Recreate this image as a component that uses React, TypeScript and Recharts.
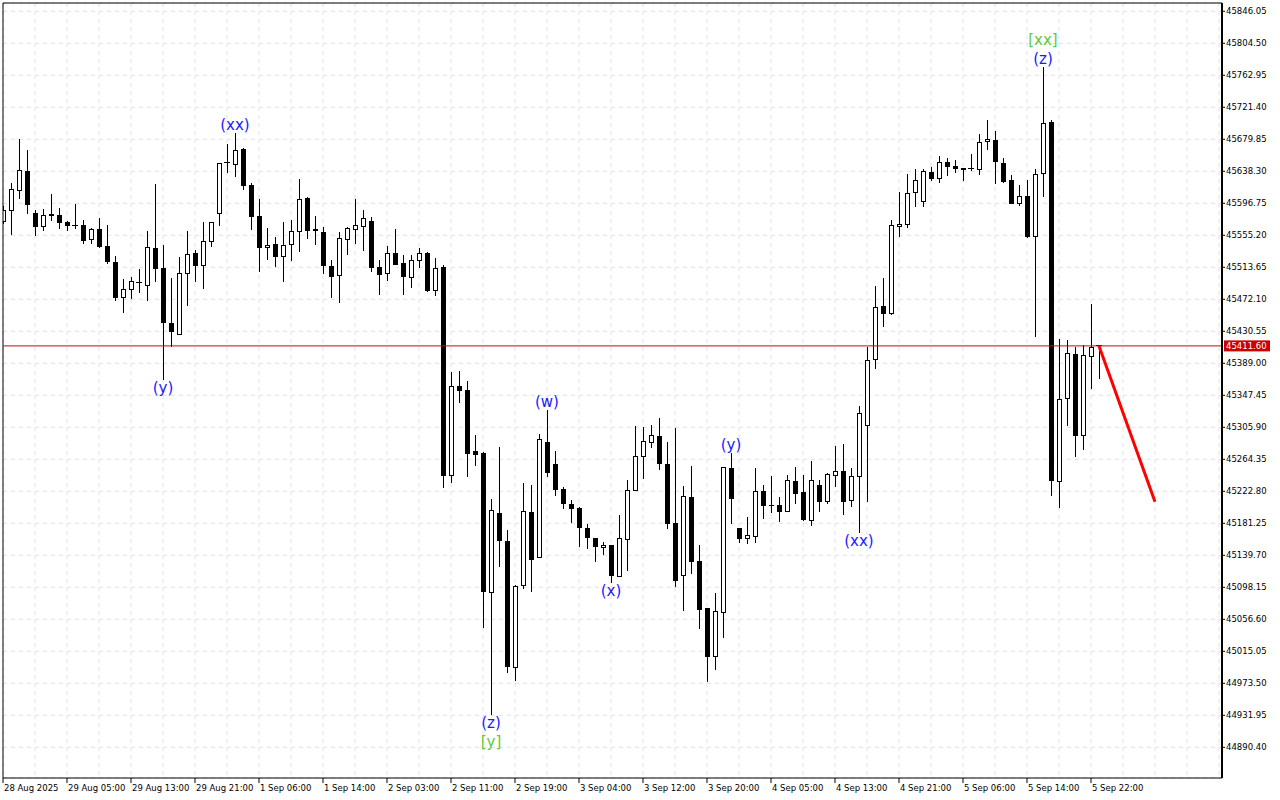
import { Bar, CartesianGrid, ComposedChart, Line, ReferenceDot, ReferenceLine, XAxis, YAxis } from 'recharts';

// hourly OHLC (first candle is half hidden behind the left edge)
const OPEN = [
  45572.8, 45587.1, 45613.1, 45638.3, 45583.7, 45566.3, 45582.4, 45581.1, 45572.5, 45568.2,
  45568.2, 45550.0, 45563.0, 45541.3, 45520.1, 45474.7, 45485.1, 45492.9, 45490.3, 45538.7,
  45512.7, 45440.9, 45426.6, 45505.8, 45531.8, 45515.7, 45547.4, 45583.7, 45648.7, 45647.4,
  45667.2, 45620.5, 45580.2, 45539.6, 45543.9, 45527.4, 45543.5, 45560.4, 45603.6, 45563.4,
  45559.5, 45515.3, 45502.7, 45550.0, 45563.0, 45566.3, 45573.4, 45513.6, 45505.8, 45531.8,
  45518.8, 45500.7, 45522.7, 45531.8, 45483.3, 45514.4, 45243.6, 45359.5, 45354.3, 45275.5,
  45272.1, 45091.7, 45194.2, 45157.9, 44994.3, 45100.8, 45195.5, 45137.1, 45286.8, 45258.2,
  45225.8, 45206.3, 45201.1, 45174.8, 45161.8, 45150.1, 45152.7, 45111.9, 45160.0, 45224.5,
  45268.2, 45286.4, 45294.6, 45258.2, 45181.3, 45113.7, 45215.0, 45132.3, 45070.9, 45008.0,
  45065.7, 45252.7, 45175.1, 45161.3, 45163.9, 45223.2, 45204.6, 45204.6, 45196.8, 45236.2,
  45221.5, 45184.6, 45230.6, 45209.3, 45243.0, 45248.8, 45211.1, 45242.3, 45308.0, 45393.7,
  45463.4, 45453.4, 45566.9, 45569.5, 45611.4, 45599.3, 45637.0, 45629.2, 45650.0, 45644.8,
  45642.2, 45640.9, 45640.4, 45677.2, 45678.9, 45648.7, 45626.6, 45596.7, 45605.8, 45553.4,
  45635.7, 45701.9, 45235.3, 45343.6, 45401.1, 45295.0, 45397.6, 45411.6,
];
const HIGH = [
  45593.2, 45623.5, 45679.8, 45665.9, 45588.0, 45589.3, 45608.8, 45590.2, 45574.1, 45595.8,
  45575.1, 45564.3, 45577.6, 45568.6, 45528.3, 45498.5, 45501.4, 45511.8, 45561.2, 45621.8,
  45542.6, 45499.7, 45527.4, 45560.8, 45536.1, 45572.1, 45573.1, 45649.7, 45673.7, 45687.6,
  45668.5, 45622.7, 45602.3, 45564.3, 45552.6, 45572.1, 45575.1, 45627.9, 45604.9, 45580.2,
  45565.6, 45523.1, 45559.5, 45565.6, 45602.3, 45588.0, 45578.6, 45523.1, 45541.3, 45563.4,
  45529.2, 45529.2, 45538.3, 45533.9, 45525.3, 45516.6, 45377.3, 45379.0, 45366.4, 45295.9,
  45273.8, 45212.4, 45279.9, 45172.6, 45101.1, 45233.2, 45231.0, 45297.2, 45328.4, 45274.7,
  45228.0, 45211.5, 45201.8, 45180.3, 45162.8, 45157.4, 45153.1, 45191.6, 45237.5, 45307.6,
  45306.7, 45308.9, 45318.0, 45286.4, 45304.6, 45229.7, 45255.7, 45153.1, 45071.9, 45091.1,
  45255.0, 45272.1, 45175.8, 45189.0, 45252.7, 45230.6, 45242.7, 45215.0, 45244.0, 45254.0,
  45244.0, 45262.1, 45237.5, 45246.6, 45281.6, 45284.2, 45253.0, 45333.5, 45410.2, 45489.4,
  45499.7, 45575.1, 45611.8, 45634.8, 45640.9, 45640.9, 45643.5, 45658.2, 45655.2, 45653.0,
  45642.6, 45660.8, 45686.7, 45704.5, 45690.6, 45655.2, 45633.1, 45620.1, 45626.6, 45640.9,
  45774.1, 45704.9, 45420.2, 45419.2, 45410.5, 45412.8, 45466.0, 45412.0,
];
const LOW = [
  45569.9, 45555.6, 45602.3, 45582.8, 45554.3, 45561.2, 45574.1, 45563.4, 45561.2, 45563.8,
  45543.9, 45543.9, 45539.3, 45517.9, 45469.9, 45454.7, 45472.1, 45480.7, 45470.3, 45494.9,
  45367.3, 45410.5, 45425.7, 45463.8, 45494.9, 45485.9, 45540.4, 45567.6, 45635.7, 45631.3,
  45614.0, 45562.1, 45507.9, 45523.1, 45514.4, 45494.9, 45522.2, 45533.9, 45550.8, 45542.6,
  45504.9, 45474.2, 45467.7, 45529.2, 45543.9, 45535.2, 45507.9, 45478.1, 45496.2, 45516.0,
  45478.1, 45487.2, 45512.3, 45482.0, 45476.8, 45226.7, 45233.2, 45337.8, 45241.8, 45255.7,
  45044.9, 44932.3, 45124.9, 44987.3, 44976.9, 45095.6, 45091.7, 45136.2, 45241.0, 45217.1,
  45200.2, 45182.0, 45150.9, 45148.3, 45130.6, 45140.1, 45104.1, 45111.5, 45119.7, 45223.6,
  45238.8, 45278.6, 45250.5, 45174.2, 45098.9, 45067.4, 45115.0, 45044.0, 44975.6, 44990.8,
  45032.3, 45180.0, 45156.1, 45154.8, 45156.1, 45186.8, 45195.0, 45182.9, 45196.6, 45206.3,
  45184.6, 45178.1, 45196.3, 45206.3, 45228.8, 45192.0, 45202.8, 45168.3, 45209.3, 45382.0,
  45436.5, 45451.7, 45553.4, 45565.1, 45592.3, 45592.3, 45626.1, 45623.5, 45632.6, 45635.7,
  45626.1, 45639.1, 45633.9, 45666.3, 45621.4, 45622.7, 45595.4, 45593.2, 45552.0, 45422.8,
  45604.5, 45217.1, 45200.7, 45308.0, 45267.7, 45276.4, 45355.6, 45368.6,
];
const CLOSE = [
  45588.0, 45614.9, 45639.6, 45594.9, 45566.3, 45581.1, 45580.2, 45571.5, 45567.3, 45567.6,
  45548.2, 45562.1, 45540.4, 45520.5, 45474.2, 45485.1, 45495.5, 45493.6, 45539.6, 45511.8,
  45440.9, 45429.2, 45505.8, 45530.5, 45515.7, 45547.4, 45572.1, 45648.7, 45649.1, 45665.5,
  45619.6, 45579.3, 45539.1, 45542.2, 45527.4, 45542.2, 45560.4, 45601.9, 45561.2, 45560.4,
  45515.7, 45501.4, 45551.3, 45564.3, 45568.2, 45577.3, 45513.1, 45504.0, 45531.8, 45517.0,
  45500.7, 45523.1, 45531.8, 45483.3, 45512.7, 45243.0, 45359.5, 45353.4, 45271.6, 45270.3,
  45091.7, 45198.5, 45158.7, 44995.1, 45099.8, 45196.8, 45134.0, 45290.3, 45246.2, 45224.5,
  45205.9, 45200.2, 45174.8, 45161.8, 45150.1, 45152.7, 45113.2, 45161.8, 45224.1, 45267.7,
  45287.7, 45295.5, 45257.9, 45180.7, 45106.7, 45216.3, 45131.4, 45068.7, 45008.0, 45067.0,
  45254.0, 45213.2, 45161.3, 45165.7, 45223.2, 45204.1, 45203.1, 45195.5, 45237.1, 45219.7,
  45185.9, 45237.1, 45209.3, 45244.9, 45248.2, 45209.3, 45242.3, 45324.1, 45392.9, 45461.7,
  45453.4, 45568.2, 45569.5, 45609.7, 45626.6, 45638.3, 45628.7, 45650.0, 45644.3, 45641.7,
  45640.4, 45641.3, 45675.9, 45679.8, 45650.0, 45624.8, 45596.2, 45605.8, 45552.6, 45634.4,
  45700.6, 45236.6, 45342.3, 45401.1, 45295.0, 45399.4, 45409.8, 45411.6,
];

const TIME_LABELS = [
  '28 Aug 2025', '29 Aug 05:00', '29 Aug 13:00', '29 Aug 21:00', '1 Sep 06:00', '1 Sep 14:00',
  '2 Sep 03:00', '2 Sep 11:00', '2 Sep 19:00', '3 Sep 04:00', '3 Sep 12:00', '3 Sep 20:00',
  '4 Sep 05:00', '4 Sep 13:00', '4 Sep 21:00', '5 Sep 06:00', '5 Sep 14:00', '5 Sep 22:00',
];
const TIME_TICKS = TIME_LABELS.map((_, k) => k * 8); // one label every 8 bars
const GRID_X = Array.from({ length: 39 }, (_, k) => k * 4); // grid every 4 bars

const PRICE_TICKS = [
  45846.05, 45804.5, 45762.95, 45721.4, 45679.85, 45638.3, 45596.75, 45555.2, 45513.65, 45472.1,
  45430.55, 45389.0, 45347.45, 45305.9, 45264.35, 45222.8, 45181.25, 45139.7, 45098.15, 45056.6,
  45015.05, 44973.5, 44931.95, 44890.4,
];
const Y_MIN = 44850.6;
const Y_MAX = 45856.8;
const X_MAX = 152.375;
const CURRENT = 45411.6;

// forecast arrow
const PROJ_IDX = [137, 144];
const PROJ_PRICE = [45411.6, 45209.3];

// wave marks: bar index, text, colour, side, stack row
const WAVES = [
  { i: 20, text: '(y)', color: '#1a1aff', side: 'low', row: 0 },
  { i: 29, text: '(xx)', color: '#1a1aff', side: 'high', row: 0 },
  { i: 61, text: '(z)', color: '#1a1aff', side: 'low', row: 0 },
  { i: 61, text: '[y]', color: '#5ccc3a', side: 'low', row: 1 },
  { i: 68, text: '(w)', color: '#1a1aff', side: 'high', row: 0 },
  { i: 76, text: '(x)', color: '#1a1aff', side: 'low', row: 0 },
  { i: 91, text: '(y)', color: '#1a1aff', side: 'high', row: 0 },
  { i: 107, text: '(xx)', color: '#1a1aff', side: 'low', row: 0 },
  { i: 130, text: '(z)', color: '#1a1aff', side: 'high', row: 0 },
  { i: 130, text: '[xx]', color: '#5ccc3a', side: 'high', row: 1 },
];

const FONT = '"DejaVu Sans", sans-serif';

const bars = OPEN.map((open, i) => ({
  i,
  open,
  high: HIGH[i],
  low: LOW[i],
  close: CLOSE[i],
  range: [LOW[i], HIGH[i]],
}));
const projection = PROJ_IDX.map((i, k) => ({ i, p: PROJ_PRICE[k] }));

function Candle(props: any) {
  const { x, y, width, height, payload } = props;
  if (x == null || !payload) return null;
  const { open, close, high, low } = payload;
  const top = Math.min(y, y + height);
  const h = Math.abs(height);
  const k = h / (high - low || 1);
  const py = (v: number) => top + (high - v) * k;
  const cx = x + width / 2;
  const bTop = py(Math.max(open, close));
  const bBot = py(Math.min(open, close));
  let body;
  if (bBot - bTop < 1) {
    body = <line x1={cx - 3} x2={cx + 3} y1={bTop} y2={bTop} stroke="#000" />;
  } else if (close > open) {
    body = <rect x={cx - 2} y={bTop} width={4} height={bBot - bTop} fill="#fff" stroke="#000" />;
  } else {
    body = <rect x={cx - 2.5} y={bTop} width={5} height={bBot - bTop} fill="#000" />;
  }
  return (
    <g shapeRendering="crispEdges">
      <line x1={cx} x2={cx} y1={top} y2={top + h} stroke="#000" />
      {body}
    </g>
  );
}

function TimeTick({ x, y, payload }: any) {
  const label = TIME_LABELS[Math.round(payload.value / 8)];
  return (
    <text x={x + 1} y={y + 6} fontSize={8.5} fontFamily={FONT} fill="#000" textAnchor="start">
      {label}
    </text>
  );
}

function PriceTag({ viewBox }: any) {
  if (!viewBox) return null;
  const x = viewBox.x + viewBox.width + 2;
  return (
    <g>
      <rect x={x} y={viewBox.y - 5.5} width={46} height={11} fill="#cc0000" />
      <text x={x + 2} y={viewBox.y + 3.5} fontSize={8.5} fontFamily={FONT} fill="#fff">
        {CURRENT.toFixed(2)}
      </text>
    </g>
  );
}

function waveLabel(text: string, color: string, side: string, row: number) {
  return ({ viewBox }: any) => {
    if (!viewBox) return null;
    const cx = viewBox.x + viewBox.width / 2;
    const cy = viewBox.y + viewBox.height / 2;
    const d = 8 + row * 19;
    return (
      <text
        x={cx}
        y={side === 'high' ? cy - d : cy + d}
        fontSize={15}
        fontFamily={FONT}
        fill={color}
        textAnchor="middle"
        dominantBaseline="central"
      >
        {text}
      </text>
    );
  };
}

export default function App() {
  return (
    <div style={{ position: 'absolute', left: 0, top: 0, width: 1280, height: 800, background: '#fff' }}>
      <ComposedChart width={1280} height={800} data={bars} margin={{ top: 3, right: 0, bottom: 0, left: 3 }}>
        <CartesianGrid xAxisId="grid" stroke="#e2e2e2" strokeDasharray="4 4" />
        <XAxis
          xAxisId="grid"
          type="number"
          dataKey="i"
          domain={[0, X_MAX]}
          allowDataOverflow
          ticks={GRID_X}
          interval={0}
          hide
        />
        <XAxis
          type="number"
          dataKey="i"
          domain={[0, X_MAX]}
          allowDataOverflow
          ticks={TIME_TICKS}
          interval={0}
          height={22}
          tickSize={5}
          tickMargin={2}
          axisLine={{ stroke: '#000' }}
          tickLine={{ stroke: '#000' }}
          tick={<TimeTick />}
        />
        <YAxis
          orientation="right"
          domain={[Y_MIN, Y_MAX]}
          allowDataOverflow
          ticks={PRICE_TICKS}
          interval={0}
          width={58}
          tickSize={3}
          tickMargin={1}
          axisLine={{ stroke: '#000', strokeWidth: 2 }}
          tickLine={{ stroke: '#000' }}
          tickFormatter={(v: number) => v.toFixed(2)}
          tick={{ fontSize: 8.5, fontFamily: FONT, fill: '#000' }}
        />
        <ReferenceLine x={0} stroke="#000" />
        <ReferenceLine y={Y_MAX} stroke="#000" />
        <ReferenceLine y={CURRENT} stroke="#b01414" label={<PriceTag />} />
        <Bar dataKey="range" barSize={6} shape={<Candle />} isAnimationActive={false} />
        <Line
          data={projection}
          dataKey="p"
          stroke="#ff0000"
          strokeWidth={3}
          dot={false}
          activeDot={false}
          isAnimationActive={false}
        />
        {WAVES.map((w, k) => (
          <ReferenceDot
            key={k}
            x={w.i}
            y={w.side === 'high' ? HIGH[w.i] : LOW[w.i]}
            r={0}
            fill="none"
            stroke="none"
            label={waveLabel(w.text, w.color, w.side, w.row)}
          />
        ))}
      </ComposedChart>
    </div>
  );
}
